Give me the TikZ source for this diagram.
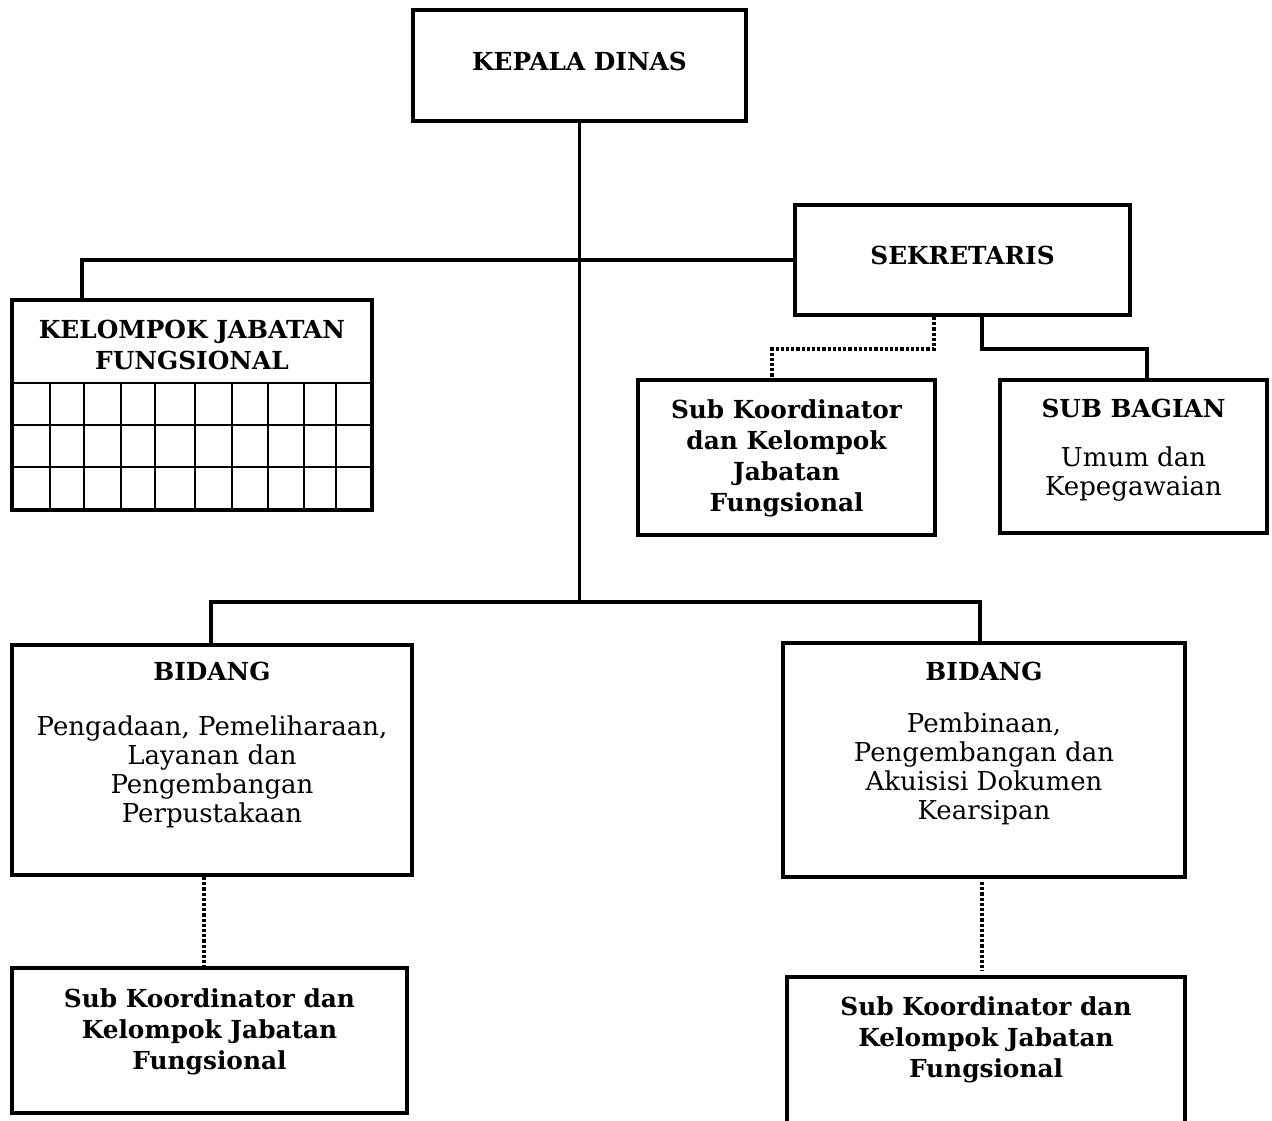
\documentclass[tikz,border=0pt]{standalone}
\usepackage{fontspec}
\setmainfont{DejaVu Serif}
\usetikzlibrary{fit}
\begin{document}
\begin{tikzpicture}[x=0.5pt,y=-0.5pt,
 box/.style={draw, line width=1.9pt, inner sep=0pt},
 conn/.style={line width=1.7pt},
 dotconn/.style={line width=1.7pt, dash pattern=on 1.6pt off 1pt},
 gridln/.style={line width=1.1pt},
 bt/.style={font=\fontsize{12.4}{15.5}\selectfont\bfseries, align=center, inner sep=0pt, anchor=north},
 rt/.style={font=\fontsize{13}{14.5}\selectfont, align=center, inner sep=0pt, anchor=north}]
\useasboundingbox (0,0) rectangle (1272,1120);
\clip (0,0) rectangle (1272,1120);
% boxes
\node[box, fit={(413,10)(746,121)}] (kd) {};
\node[box, fit={(795,205)(1130,315)}] (sek) {};
\node[box, fit={(12,300)(372,510)}] (kjf) {};
\node[box, fit={(638,380)(935,535)}] (skm) {};
\node[box, fit={(1000,380)(1267,533)}] (sbg) {};
\node[box, fit={(12,645)(412,875)}] (bidL) {};
\node[box, fit={(783,643)(1185,877)}] (bidR) {};
\node[box, fit={(12,968)(407,1113)}] (skL) {};
\node[box, fit={(787,977)(1185,1150)}] (skR) {};
% grid inside KJF
\draw[gridln] (12,383) -- (372,383);
\draw[gridln] (12,425) -- (372,425);
\draw[gridln] (12,467) -- (372,467);
\foreach \gx in {50,84,121,155,195,232,268,304,336}
  \draw[gridln] (\gx,383) -- (\gx,510);
% texts
\node[bt] (kdt) at (kd.north) [yshift=-22pt] {KEPALA DINAS};
\node[bt] (sekt) at (sek.north) [yshift=-21.5pt] {SEKRETARIS};
\node[bt] (kjft) at (kjf.north) [yshift=-11pt] {KELOMPOK JABATAN\\FUNGSIONAL};
\node[bt] (skmt) at (skm.north) [yshift=-10.5pt] {Sub Koordinator\\dan Kelompok\\Jabatan\\Fungsional};
\node[bt] (sbgt) at (sbg.north) [yshift=-10.5pt] {SUB BAGIAN};
\node[rt] (sbgr) at (sbg.north) [yshift=-34pt] {Umum dan\\Kepegawaian};
\node[bt] (bidLt) at (bidL.north) [yshift=-9.5pt] {BIDANG};
\node[rt] (bidLr) at (bidL.north) [yshift=-36pt] {Pengadaan, Pemeliharaan,\\Layanan dan\\Pengembangan\\Perpustakaan};
\node[bt] (bidRt) at (bidR.north) [yshift=-10.5pt] {BIDANG};
\node[rt] (bidRr) at (bidR.north) [yshift=-35.5pt] {Pembinaan,\\Pengembangan dan\\Akuisisi Dokumen\\Kearsipan};
\node[bt] (skLt) at (skL.north) [yshift=-11pt] {Sub Koordinator dan\\Kelompok Jabatan\\Fungsional};
\node[bt] (skRt) at (skR.north) [yshift=-10.5pt] {Sub Koordinator dan\\Kelompok Jabatan\\Fungsional};
% connector helper coordinates
\coordinate (by) at (578,602);
\coordinate (kx) at (82,0);
\coordinate (sa) at (934,0);
\coordinate (sb) at (772,0);
\coordinate (sc) at (982,0);
\coordinate (sd) at (1147,0);
\coordinate (bl) at (211,0);
\coordinate (br) at (980,0);
\coordinate (dl) at (204,0);
\coordinate (dr) at (982,0);
% connectors
\draw[conn] (kd.south) -- (kd.south |- by);
\draw[conn] (kjf.north -| kx) |- (sek.west);
\draw[dotconn] (sek.south -| sa) -- ++(0,32) -| (skm.north -| sb);
\draw[conn] (sek.south -| sc) -- ++(0,32) -| (sbg.north -| sd);
\draw[conn] (bidL.north -| bl) |- (by) -| (bidR.north -| br);
\draw[dotconn] (bidL.south -| dl) -- (skL.north -| dl);
\draw[dotconn] ([yshift=-1.5pt]bidR.south -| dr) -- ([yshift=2pt]skR.north -| dr);
\end{tikzpicture}
\end{document}
